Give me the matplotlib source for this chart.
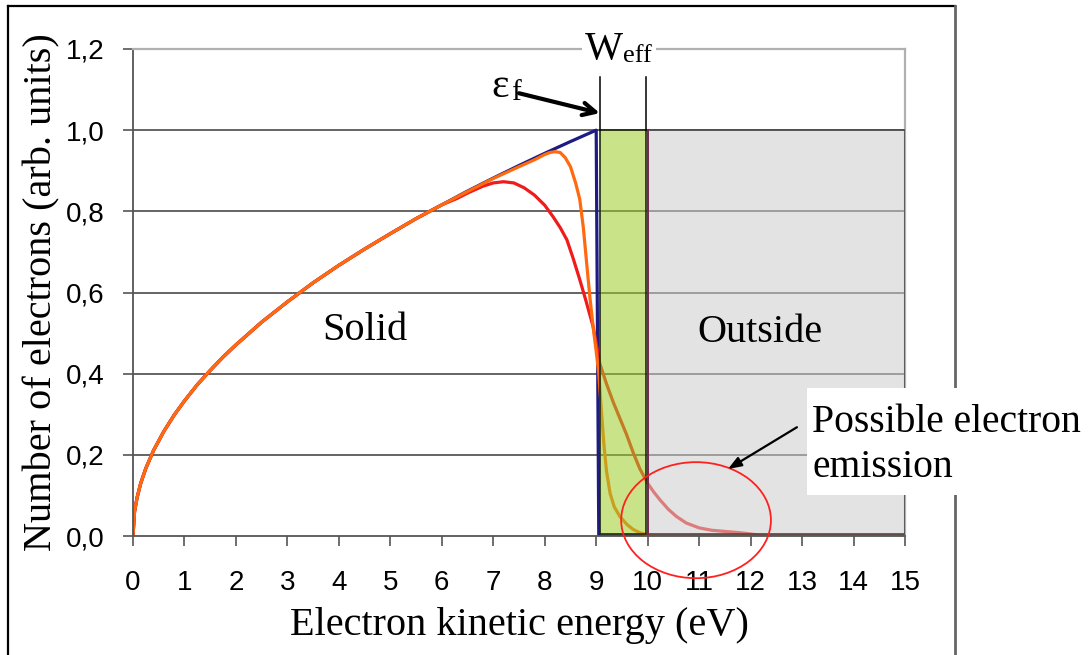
import matplotlib
matplotlib.use("Agg")
import matplotlib.pyplot as plt
from matplotlib.patches import Rectangle, Ellipse
from matplotlib.lines import Line2D

# ---------------- data ----------------
solid_energy = [0.0, 0.03, 0.08, 0.15, 0.25, 0.4, 0.6, 0.8, 1.0, 1.25, 1.5, 1.75, 2.0,
                2.5, 3.0, 3.5, 4.0, 4.5, 5.0, 5.5, 6.0]
solid_values = [0.0, 0.06, 0.095, 0.13, 0.167, 0.211, 0.258, 0.298, 0.333, 0.373, 0.408,
                0.441, 0.471, 0.527, 0.577, 0.624, 0.667, 0.707, 0.745, 0.782, 0.816]

blue_energy = solid_energy + [6.5, 7.0, 7.5, 8.0, 8.5, 9.0, 9.05, 15.0]
blue_values = solid_values + [0.850, 0.882, 0.913, 0.943, 0.972, 1.0, 0.0, 0.0]

orange_energy = solid_energy + [6.5, 7.0, 7.5, 7.8, 8.0, 8.1, 8.2, 8.3, 8.4, 8.5, 8.6, 8.68,
                                8.75, 8.82, 8.88, 8.95, 9.0, 9.05, 9.1, 9.15, 9.2, 9.27, 9.35,
                                9.46, 9.6, 9.72, 9.85, 10.0, 10.3, 15.0]
orange_values = solid_values + [0.849, 0.881, 0.910, 0.927, 0.940, 0.945, 0.947, 0.945, 0.932,
                                0.910, 0.870, 0.830, 0.760, 0.665, 0.585, 0.505, 0.455, 0.400,
                                0.310, 0.225, 0.160, 0.105, 0.072, 0.048, 0.028, 0.016, 0.008,
                                0.003, 0.0, 0.0]

red_energy = solid_energy + [6.3, 6.5, 6.8, 7.0, 7.2, 7.4, 7.6, 7.8, 8.0, 8.16, 8.3, 8.43, 8.55,
                             8.68, 8.8, 8.94, 9.0, 9.07, 9.2, 9.33, 9.46, 9.59, 9.72, 9.85, 10.0,
                             10.12, 10.24, 10.4, 10.56, 10.75, 11.0, 11.25, 11.53, 11.8, 12.0,
                             12.3, 15.0]
red_values = solid_values + [0.832, 0.845, 0.862, 0.870, 0.873, 0.870, 0.858, 0.840, 0.815,
                             0.787, 0.760, 0.730, 0.685, 0.632, 0.580, 0.516, 0.475, 0.425,
                             0.375, 0.330, 0.290, 0.250, 0.205, 0.165, 0.130, 0.108, 0.089,
                             0.066, 0.048, 0.032, 0.020, 0.014, 0.011, 0.008, 0.005, 0.0, 0.0]

x_ticks = list(range(0, 16))
x_tick_labels = [str(v) for v in x_ticks]
y_ticks = [0.0, 0.2, 0.4, 0.6, 0.8, 1.0, 1.2]
y_tick_labels = ["0,0", "0,2", "0,4", "0,6", "0,8", "1,0", "1,2"]

fermi_energy = 9.0
weff_start = 9.07      # green band (work function) start
weff_end = 9.97        # green band end
outside_start = 10.0   # vacuum region start
outside_end = 15.0
band_top = 1.0

# ---------------- style ----------------
SERIF = "Liberation Serif"
SANS = "Liberation Sans"
W, H = 1088, 655
fig = plt.figure(figsize=(W / 100, H / 100), dpi=100)
fig.patch.set_facecolor("white")

def fx(px):
    return px / W

def fy(py):
    return 1 - py / H

ax = fig.add_axes([fx(133), fy(536), fx(905) - fx(133), fy(49) - fy(536)])
ax.set_xlim(0, 15)
ax.set_ylim(0, 1.2)

# gridlines
for yv in y_ticks[1:-1]:
    ax.axhline(yv, color="#3a3a3a", lw=1.1, zorder=1)

# curves
ax.plot(blue_energy, blue_values, color="#1c1c84", lw=2.3, zorder=2, solid_joinstyle="round")
ax.plot(red_energy, red_values, color="#f01c1c", lw=2.3, zorder=2.1, solid_joinstyle="round")
ax.plot(orange_energy, orange_values, color="#ff6a10", lw=2.3, zorder=2.2, solid_joinstyle="round")

# bands (semi-transparent, over the curves)
green = Rectangle((weff_start, 0.006), weff_end - weff_start, band_top - 0.006,
                  facecolor=(0.62, 0.80, 0.16, 0.55), edgecolor="#1e2a10", lw=1.2, zorder=3)
gray = Rectangle((outside_start, 0.006), outside_end - outside_start, band_top - 0.006,
                 facecolor=(0.80, 0.80, 0.80, 0.55), edgecolor="#4a4a4a", lw=1.2, zorder=3)
ax.add_patch(green)
ax.add_patch(gray)
ax.plot([outside_start, outside_start], [0.006, band_top], color="#7a2a55", lw=1.4, zorder=3.1)

# vertical markers above the bands
ax.plot([weff_start, weff_start], [band_top, 1.13], color="black", lw=1.1, zorder=3, clip_on=False)
ax.plot([weff_end, weff_end], [band_top, 1.13], color="black", lw=1.1, zorder=3, clip_on=False)

# spines
for s in ["left", "bottom"]:
    ax.spines[s].set_color("#555555")
    ax.spines[s].set_linewidth(1.3)
for s in ["top", "right"]:
    ax.spines[s].set_color("#b0b0b0")
    ax.spines[s].set_linewidth(1.6)

ax.set_xticks(x_ticks)
ax.set_xticklabels(x_tick_labels, fontfamily=SANS, fontsize=20)
ax.set_yticks(y_ticks)
ax.set_yticklabels(y_tick_labels, fontfamily=SANS, fontsize=20)
ax.tick_params(axis="x", direction="out", length=7.5, width=1.2, color="#555555", pad=17)
ax.tick_params(axis="y", direction="out", length=7.5, width=1.2, color="#555555", pad=13)

# region labels
ax.text(4.51, 0.507, "Solid", fontfamily=SERIF, fontsize=29, ha="center", va="center", zorder=5)
ax.text(12.18, 0.502, "Outside", fontfamily=SERIF, fontsize=29, ha="center", va="center", zorder=5)

# emission ellipse
ax.add_patch(Ellipse((10.94, 0.039), 2.91, 0.286, fill=False, edgecolor="#ff2020",
                     lw=1.3, zorder=4, clip_on=False))

# arrows
ax.annotate("", xy=(weff_start, 1.042), xytext=(7.50, 1.091),
            arrowprops=dict(arrowstyle="->,head_length=0.9,head_width=0.45", lw=3, color="black",
                            shrinkA=0, shrinkB=0),
            annotation_clip=False, zorder=6)
ax.annotate("", xy=(11.56, 0.165), xytext=(12.90, 0.268),
            arrowprops=dict(arrowstyle="-|>,head_length=0.8,head_width=0.3", lw=1.6, color="black",
                            shrinkA=0, shrinkB=0),
            annotation_clip=False, zorder=6)

# axis titles
fig.text(fx(519), fy(635), "Electron kinetic energy (eV)", fontfamily=SERIF, fontsize=29,
         ha="center", va="baseline")
fig.text(fx(42), fy(292), "Number of electrons (arb. units)", fontfamily=SERIF, fontsize=29,
         ha="center", va="center", rotation=90)

# Weff label with white background
fig.patches.append(Rectangle((fx(582), fy(72)), fx(656) - fx(582), fy(28) - fy(72),
                             transform=fig.transFigure, facecolor="white", edgecolor="none",
                             zorder=10))
fig.text(fx(585), fy(59), "W", fontfamily=SERIF, fontsize=29, ha="left", va="baseline", zorder=11)
fig.text(fx(623), fy(62), "eff", fontfamily=SERIF, fontsize=19, ha="left", va="baseline", zorder=11)

# epsilon_f label
fig.text(fx(491), fy(97), "\u03b5", fontfamily=SERIF, fontsize=30, ha="left", va="baseline")
fig.text(fx(511), fy(100), "f", fontfamily=SERIF, fontsize=21, ha="left", va="baseline")

# outer frame
frame_kw = dict(transform=fig.transFigure, zorder=0)
fig.lines.append(Line2D([fx(8), fx(955)], [fy(6), fy(6)], color="black", lw=1.6, **frame_kw))
fig.lines.append(Line2D([fx(8), fx(8)], [fy(6), fy(660)], color="black", lw=1.6, **frame_kw))
fig.lines.append(Line2D([fx(955), fx(955)], [fy(6), fy(660)], color="#666666", lw=2.0, **frame_kw))

# emission text with white box
fig.patches.append(Rectangle((fx(807), fy(495)), fx(1088) - fx(807), fy(388) - fy(495),
                             transform=fig.transFigure, facecolor="white", edgecolor="none",
                             zorder=10))
fig.text(fx(812), fy(432), "Possible electron", fontfamily=SERIF, fontsize=28.5,
         ha="left", va="baseline", zorder=11)
fig.text(fx(812), fy(477), "emission", fontfamily=SERIF, fontsize=28.5,
         ha="left", va="baseline", zorder=11)

fig.savefig("out.png", dpi=100)
